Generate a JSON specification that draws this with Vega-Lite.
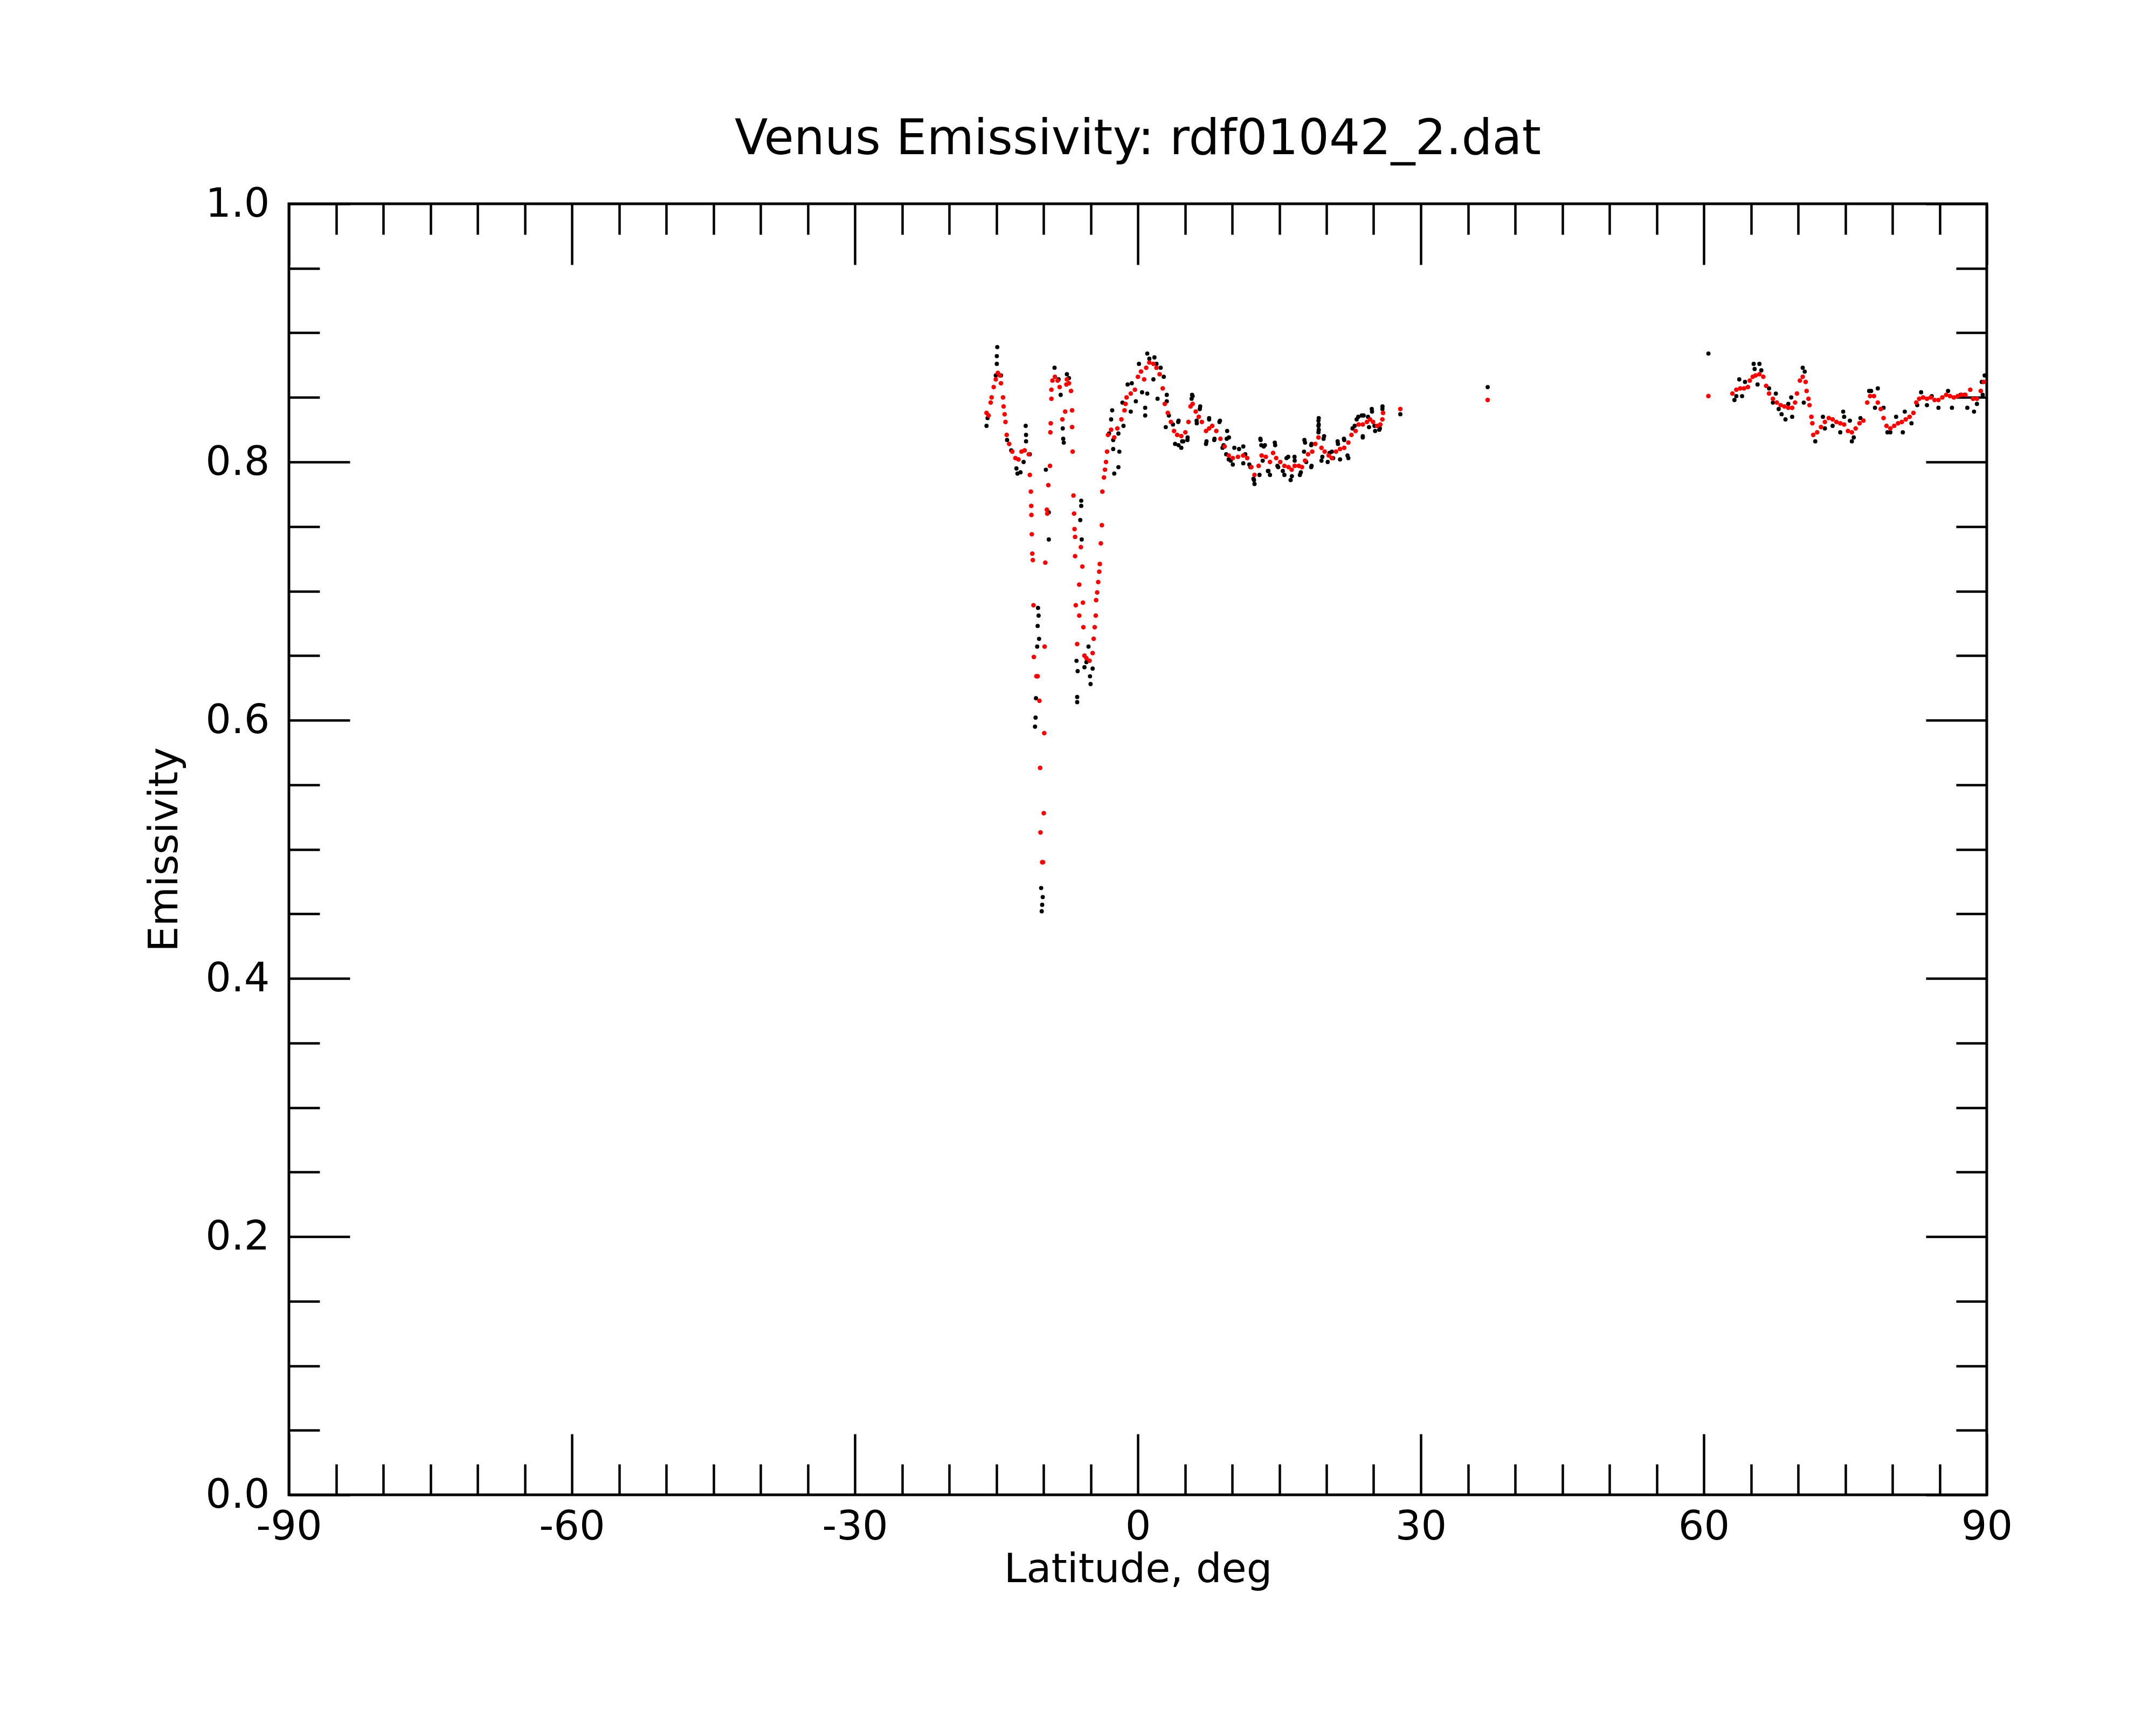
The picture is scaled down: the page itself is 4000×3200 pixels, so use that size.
{
  "$schema": "https://vega.github.io/schema/vega-lite/v6.json",
  "autosize": {"type": "none"},
  "padding": {"left": 536, "top": 378, "right": 314, "bottom": 427},
  "width": 3150,
  "height": 2395,
  "background": "white",
  "title": {
    "text": "Venus Emissivity: rdf01042_2.dat",
    "font": "DejaVu Sans",
    "fontSize": 90,
    "fontWeight": "normal",
    "color": "black",
    "anchor": "middle",
    "frame": "group",
    "baseline": "alphabetic",
    "offset": -35
  },
  "config": {
    "view": {"stroke": "black", "strokeWidth": 5},
    "axis": {
      "domain": false,
      "grid": false,
      "tickColor": "black",
      "tickWidth": 4.5,
      "labelFont": "DejaVu Sans",
      "labelFontSize": 75,
      "labelColor": "black",
      "labelFlush": false,
      "labelOverlap": false,
      "titleFont": "DejaVu Sans",
      "titleFontSize": 75,
      "titleFontWeight": "normal",
      "titleColor": "black",
      "zindex": 1
    }
  },
  "datasets": {
    "black": [
      {"lat": -16.04, "emis": 0.828}, {"lat": -15.93, "emis": 0.834}, {"lat": -15.06, "emis": 0.867}, {"lat": -14.95, "emis": 0.876},
      {"lat": -14.95, "emis": 0.882}, {"lat": -14.9, "emis": 0.889}, {"lat": -14.51, "emis": 0.867}, {"lat": -13.86, "emis": 0.817},
      {"lat": -13.42, "emis": 0.809}, {"lat": -12.87, "emis": 0.795}, {"lat": -12.76, "emis": 0.791}, {"lat": -12.44, "emis": 0.792},
      {"lat": -12.11, "emis": 0.8}, {"lat": -11.89, "emis": 0.828}, {"lat": -11.85, "emis": 0.821}, {"lat": -11.85, "emis": 0.816},
      {"lat": -11.45, "emis": 0.806}, {"lat": -10.58, "emis": 0.687}, {"lat": -10.52, "emis": 0.681}, {"lat": -10.62, "emis": 0.673},
      {"lat": -10.47, "emis": 0.663}, {"lat": -10.67, "emis": 0.657}, {"lat": -10.8, "emis": 0.617}, {"lat": -10.84, "emis": 0.602},
      {"lat": -10.9, "emis": 0.595}, {"lat": -10.25, "emis": 0.47}, {"lat": -10.08, "emis": 0.463}, {"lat": -10.14, "emis": 0.457},
      {"lat": -10.19, "emis": 0.452}, {"lat": -9.75, "emis": 0.794}, {"lat": -9.44, "emis": 0.761}, {"lat": -9.44, "emis": 0.74},
      {"lat": -8.83, "emis": 0.873}, {"lat": -8.4, "emis": 0.864}, {"lat": -8.18, "emis": 0.852}, {"lat": -7.96, "emis": 0.826},
      {"lat": -7.91, "emis": 0.818}, {"lat": -7.85, "emis": 0.815}, {"lat": -7.52, "emis": 0.868}, {"lat": -7.3, "emis": 0.865},
      {"lat": -6.0, "emis": 0.77}, {"lat": -6.0, "emis": 0.766}, {"lat": -6.1, "emis": 0.755}, {"lat": -5.95, "emis": 0.74},
      {"lat": -6.5, "emis": 0.646}, {"lat": -6.38, "emis": 0.638}, {"lat": -6.43, "emis": 0.618}, {"lat": -6.43, "emis": 0.614},
      {"lat": -5.66, "emis": 0.641}, {"lat": -5.23, "emis": 0.657}, {"lat": -5.07, "emis": 0.634}, {"lat": -5.01, "emis": 0.628},
      {"lat": -4.79, "emis": 0.64}, {"lat": -5.45, "emis": 0.645},
      {"lat": -3.05, "emis": 0.822}, {"lat": -2.83, "emis": 0.833}, {"lat": -2.72, "emis": 0.84}, {"lat": -2.61, "emis": 0.81},
      {"lat": -2.61, "emis": 0.817}, {"lat": -2.5, "emis": 0.791}, {"lat": -2.06, "emis": 0.796}, {"lat": -1.96, "emis": 0.808},
      {"lat": -2.06, "emis": 0.822}, {"lat": -1.52, "emis": 0.828}, {"lat": -1.63, "emis": 0.846}, {"lat": -1.08, "emis": 0.86},
      {"lat": -0.64, "emis": 0.861}, {"lat": -0.75, "emis": 0.839}, {"lat": -0.21, "emis": 0.847}, {"lat": 0.12, "emis": 0.876},
      {"lat": 0.45, "emis": 0.854}, {"lat": 0.78, "emis": 0.842}, {"lat": 0.78, "emis": 0.836}, {"lat": 1.0, "emis": 0.853},
      {"lat": 1.0, "emis": 0.884}, {"lat": 1.22, "emis": 0.88}, {"lat": 1.76, "emis": 0.881}, {"lat": 1.98, "emis": 0.876},
      {"lat": 1.65, "emis": 0.864}, {"lat": 2.09, "emis": 0.849}, {"lat": 2.42, "emis": 0.873}, {"lat": 2.75, "emis": 0.866},
      {"lat": 3.07, "emis": 0.852}, {"lat": 3.07, "emis": 0.847}, {"lat": 2.96, "emis": 0.827}, {"lat": 3.29, "emis": 0.836},
      {"lat": 3.73, "emis": 0.829}, {"lat": 3.95, "emis": 0.814}, {"lat": 4.28, "emis": 0.831}, {"lat": 4.61, "emis": 0.811},
      {"lat": 4.82, "emis": 0.816}, {"lat": 5.26, "emis": 0.817}, {"lat": 5.81, "emis": 0.851}, {"lat": 5.7, "emis": 0.849},
      {"lat": 6.57, "emis": 0.841}, {"lat": 6.25, "emis": 0.83}, {"lat": 7.23, "emis": 0.814}, {"lat": 7.56, "emis": 0.833},
      {"lat": 8.1, "emis": 0.817}, {"lat": 8.65, "emis": 0.831}, {"lat": 8.98, "emis": 0.811}, {"lat": 9.42, "emis": 0.818},
      {"lat": 9.64, "emis": 0.802}, {"lat": 10.07, "emis": 0.798}, {"lat": 10.73, "emis": 0.81}, {"lat": 11.39, "emis": 0.806},
      {"lat": 11.82, "emis": 0.798}, {"lat": 12.37, "emis": 0.783}, {"lat": 12.26, "emis": 0.787}, {"lat": 13.02, "emis": 0.817},
      {"lat": 13.35, "emis": 0.812}, {"lat": 13.24, "emis": 0.801}, {"lat": 13.79, "emis": 0.793}, {"lat": 14.01, "emis": 0.79},
      {"lat": 14.56, "emis": 0.813}, {"lat": 14.88, "emis": 0.796}, {"lat": 15.54, "emis": 0.79}, {"lat": 15.76, "emis": 0.803},
      {"lat": 16.2, "emis": 0.786}, {"lat": 16.63, "emis": 0.801}, {"lat": 17.18, "emis": 0.79}, {"lat": 17.73, "emis": 0.815},
      {"lat": 17.62, "emis": 0.808}, {"lat": 18.38, "emis": 0.796}, {"lat": 18.38, "emis": 0.813}, {"lat": 19.15, "emis": 0.832},
      {"lat": 19.15, "emis": 0.828}, {"lat": 19.15, "emis": 0.823}, {"lat": 19.69, "emis": 0.818}, {"lat": 19.47, "emis": 0.801},
      {"lat": 20.13, "emis": 0.8}, {"lat": 20.57, "emis": 0.808}, {"lat": 21.22, "emis": 0.814}, {"lat": 21.44, "emis": 0.802},
      {"lat": 21.88, "emis": 0.817}, {"lat": 22.32, "emis": 0.803}, {"lat": 22.76, "emis": 0.826}, {"lat": 23.2, "emis": 0.833},
      {"lat": 23.85, "emis": 0.819}, {"lat": 23.74, "emis": 0.836}, {"lat": 24.4, "emis": 0.835}, {"lat": 24.83, "emis": 0.839},
      {"lat": 25.16, "emis": 0.824}, {"lat": 25.6, "emis": 0.825}, {"lat": 25.93, "emis": 0.841},
      {"lat": 5.75, "emis": 0.852}, {"lat": 4.32, "emis": 0.832}, {"lat": 4.7, "emis": 0.816}, {"lat": 4.32, "emis": 0.813},
      {"lat": 5.28, "emis": 0.819}, {"lat": 6.61, "emis": 0.843}, {"lat": 6.23, "emis": 0.832}, {"lat": 7.28, "emis": 0.816},
      {"lat": 7.56, "emis": 0.834}, {"lat": 8.13, "emis": 0.818}, {"lat": 8.71, "emis": 0.832}, {"lat": 9.47, "emis": 0.824},
      {"lat": 9.66, "emis": 0.819}, {"lat": 9.09, "emis": 0.813}, {"lat": 9.37, "emis": 0.806}, {"lat": 10.23, "emis": 0.811},
      {"lat": 11.18, "emis": 0.812}, {"lat": 9.85, "emis": 0.801}, {"lat": 11.18, "emis": 0.799}, {"lat": 11.94, "emis": 0.796},
      {"lat": 12.32, "emis": 0.786}, {"lat": 12.9, "emis": 0.79}, {"lat": 12.99, "emis": 0.818}, {"lat": 13.09, "emis": 0.813},
      {"lat": 13.47, "emis": 0.813}, {"lat": 13.85, "emis": 0.793}, {"lat": 14.52, "emis": 0.815}, {"lat": 14.8, "emis": 0.797},
      {"lat": 15.37, "emis": 0.793}, {"lat": 15.94, "emis": 0.804}, {"lat": 16.33, "emis": 0.789}, {"lat": 16.61, "emis": 0.804},
      {"lat": 17.28, "emis": 0.792}, {"lat": 17.66, "emis": 0.817}, {"lat": 17.85, "emis": 0.8}, {"lat": 18.42, "emis": 0.797},
      {"lat": 18.42, "emis": 0.814}, {"lat": 19.18, "emis": 0.834}, {"lat": 19.18, "emis": 0.829}, {"lat": 19.18, "emis": 0.825},
      {"lat": 19.75, "emis": 0.82}, {"lat": 19.56, "emis": 0.804}, {"lat": 20.32, "emis": 0.807}, {"lat": 20.71, "emis": 0.803},
      {"lat": 21.18, "emis": 0.816}, {"lat": 21.85, "emis": 0.818}, {"lat": 22.23, "emis": 0.805}, {"lat": 22.99, "emis": 0.828},
      {"lat": 23.37, "emis": 0.835}, {"lat": 23.85, "emis": 0.82}, {"lat": 23.94, "emis": 0.836}, {"lat": 24.8, "emis": 0.841},
      {"lat": 25.09, "emis": 0.828}, {"lat": 25.66, "emis": 0.826}, {"lat": 25.94, "emis": 0.843}, {"lat": 24.51, "emis": 0.827},
      {"lat": 27.83, "emis": 0.837}, {"lat": 37.09, "emis": 0.858}, {"lat": 60.49, "emis": 0.884},
      {"lat": 63.25, "emis": 0.848}, {"lat": 63.45, "emis": 0.851}, {"lat": 63.76, "emis": 0.864}, {"lat": 64.06, "emis": 0.851},
      {"lat": 64.37, "emis": 0.862}, {"lat": 65.29, "emis": 0.876}, {"lat": 65.39, "emis": 0.872}, {"lat": 65.9, "emis": 0.876},
      {"lat": 66.1, "emis": 0.871}, {"lat": 65.7, "emis": 0.86}, {"lat": 66.92, "emis": 0.857}, {"lat": 67.64, "emis": 0.853},
      {"lat": 67.33, "emis": 0.846}, {"lat": 67.94, "emis": 0.841}, {"lat": 68.25, "emis": 0.837}, {"lat": 68.66, "emis": 0.833},
      {"lat": 68.96, "emis": 0.845}, {"lat": 69.27, "emis": 0.85}, {"lat": 69.37, "emis": 0.835}, {"lat": 70.49, "emis": 0.873},
      {"lat": 70.7, "emis": 0.87}, {"lat": 70.6, "emis": 0.846}, {"lat": 71.82, "emis": 0.816}, {"lat": 72.63, "emis": 0.835},
      {"lat": 72.84, "emis": 0.826}, {"lat": 73.66, "emis": 0.828}, {"lat": 74.47, "emis": 0.823}, {"lat": 74.78, "emis": 0.839},
      {"lat": 74.88, "emis": 0.835}, {"lat": 75.49, "emis": 0.832}, {"lat": 75.7, "emis": 0.816}, {"lat": 75.9, "emis": 0.819},
      {"lat": 76.61, "emis": 0.834}, {"lat": 77.53, "emis": 0.855}, {"lat": 77.74, "emis": 0.855}, {"lat": 78.45, "emis": 0.857},
      {"lat": 78.15, "emis": 0.842}, {"lat": 79.06, "emis": 0.842}, {"lat": 79.47, "emis": 0.823}, {"lat": 79.78, "emis": 0.823},
      {"lat": 80.39, "emis": 0.835}, {"lat": 81.1, "emis": 0.823}, {"lat": 81.31, "emis": 0.839}, {"lat": 82.02, "emis": 0.83},
      {"lat": 82.63, "emis": 0.844}, {"lat": 83.04, "emis": 0.854}, {"lat": 83.66, "emis": 0.844}, {"lat": 84.17, "emis": 0.851},
      {"lat": 84.88, "emis": 0.842}, {"lat": 85.9, "emis": 0.855}, {"lat": 86.31, "emis": 0.842}, {"lat": 87.23, "emis": 0.852},
      {"lat": 87.64, "emis": 0.852}, {"lat": 87.94, "emis": 0.842}, {"lat": 88.65, "emis": 0.839}, {"lat": 88.96, "emis": 0.845},
      {"lat": 89.47, "emis": 0.862}, {"lat": 89.78, "emis": 0.867}, {"lat": 89.57, "emis": 0.852}
    ],
    "red": [
      {"lat": -16.04, "emis": 0.838}, {"lat": -15.82, "emis": 0.836}, {"lat": -15.6, "emis": 0.846}, {"lat": -15.5, "emis": 0.85},
      {"lat": -15.28, "emis": 0.858}, {"lat": -15.06, "emis": 0.864}, {"lat": -14.84, "emis": 0.869}, {"lat": -14.62, "emis": 0.867},
      {"lat": -14.51, "emis": 0.861}, {"lat": -14.29, "emis": 0.85}, {"lat": -14.23, "emis": 0.843}, {"lat": -14.12, "emis": 0.837},
      {"lat": -14.03, "emis": 0.831}, {"lat": -13.9, "emis": 0.821}, {"lat": -13.64, "emis": 0.814}, {"lat": -13.31, "emis": 0.808},
      {"lat": -12.98, "emis": 0.803}, {"lat": -12.65, "emis": 0.802}, {"lat": -12.33, "emis": 0.808}, {"lat": -12.0, "emis": 0.809},
      {"lat": -11.56, "emis": 0.806}, {"lat": -11.45, "emis": 0.79}, {"lat": -11.34, "emis": 0.777}, {"lat": -11.3, "emis": 0.766},
      {"lat": -11.28, "emis": 0.759}, {"lat": -11.24, "emis": 0.744}, {"lat": -11.19, "emis": 0.729}, {"lat": -11.13, "emis": 0.724},
      {"lat": -11.06, "emis": 0.689}, {"lat": -11.02, "emis": 0.649}, {"lat": -10.75, "emis": 0.634}, {"lat": -10.62, "emis": 0.634},
      {"lat": -10.43, "emis": 0.615}, {"lat": -10.36, "emis": 0.563}, {"lat": -10.32, "emis": 0.513}, {"lat": -10.14, "emis": 0.49},
      {"lat": -10.05, "emis": 0.49}, {"lat": -9.97, "emis": 0.528}, {"lat": -9.92, "emis": 0.59}, {"lat": -9.88, "emis": 0.657},
      {"lat": -9.81, "emis": 0.722}, {"lat": -9.64, "emis": 0.763}, {"lat": -9.6, "emis": 0.76}, {"lat": -9.49, "emis": 0.782},
      {"lat": -9.31, "emis": 0.797}, {"lat": -9.27, "emis": 0.823}, {"lat": -9.23, "emis": 0.83}, {"lat": -9.16, "emis": 0.849},
      {"lat": -9.16, "emis": 0.856}, {"lat": -9.05, "emis": 0.863}, {"lat": -8.79, "emis": 0.866}, {"lat": -8.5, "emis": 0.863},
      {"lat": -8.29, "emis": 0.858}, {"lat": -8.0, "emis": 0.833}, {"lat": -7.7, "emis": 0.839}, {"lat": -7.57, "emis": 0.86},
      {"lat": -7.52, "emis": 0.864}, {"lat": -7.3, "emis": 0.861}, {"lat": -7.08, "emis": 0.855}, {"lat": -6.97, "emis": 0.84},
      {"lat": -6.97, "emis": 0.827}, {"lat": -6.91, "emis": 0.808}, {"lat": -6.82, "emis": 0.774}, {"lat": -6.76, "emis": 0.76},
      {"lat": -6.71, "emis": 0.748}, {"lat": -6.65, "emis": 0.742}, {"lat": -6.65, "emis": 0.727}, {"lat": -6.58, "emis": 0.689},
      {"lat": -6.43, "emis": 0.659}, {"lat": -6.21, "emis": 0.705}, {"lat": -6.21, "emis": 0.681}, {"lat": -6.04, "emis": 0.734},
      {"lat": -5.88, "emis": 0.719}, {"lat": -5.82, "emis": 0.691}, {"lat": -5.77, "emis": 0.672}, {"lat": -5.66, "emis": 0.65},
      {"lat": -5.45, "emis": 0.648}, {"lat": -5.12, "emis": 0.646}, {"lat": -4.79, "emis": 0.652}, {"lat": -4.68, "emis": 0.663},
      {"lat": -4.57, "emis": 0.672}, {"lat": -4.46, "emis": 0.681}, {"lat": -4.42, "emis": 0.693}, {"lat": -4.31, "emis": 0.699},
      {"lat": -4.2, "emis": 0.707}, {"lat": -4.09, "emis": 0.715}, {"lat": -4.03, "emis": 0.721}, {"lat": -3.92, "emis": 0.737},
      {"lat": -3.81, "emis": 0.751}, {"lat": -3.76, "emis": 0.777}, {"lat": -3.59, "emis": 0.788}, {"lat": -3.48, "emis": 0.794},
      {"lat": -3.37, "emis": 0.8}, {"lat": -3.26, "emis": 0.808}, {"lat": -3.16, "emis": 0.821}, {"lat": -2.83, "emis": 0.825},
      {"lat": -2.5, "emis": 0.819}, {"lat": -2.17, "emis": 0.826}, {"lat": -1.74, "emis": 0.833}, {"lat": -1.41, "emis": 0.84},
      {"lat": -1.3, "emis": 0.845}, {"lat": -1.19, "emis": 0.85}, {"lat": -0.75, "emis": 0.853}, {"lat": -0.31, "emis": 0.856},
      {"lat": 0.01, "emis": 0.866}, {"lat": 0.34, "emis": 0.87}, {"lat": 0.67, "emis": 0.864}, {"lat": 0.89, "emis": 0.873},
      {"lat": 1.22, "emis": 0.877}, {"lat": 1.65, "emis": 0.876}, {"lat": 1.98, "emis": 0.873}, {"lat": 2.31, "emis": 0.868},
      {"lat": 2.64, "emis": 0.857}, {"lat": 2.86, "emis": 0.845}, {"lat": 3.18, "emis": 0.838}, {"lat": 3.51, "emis": 0.831},
      {"lat": 3.84, "emis": 0.824}, {"lat": 4.17, "emis": 0.821}, {"lat": 4.61, "emis": 0.82}, {"lat": 5.04, "emis": 0.823},
      {"lat": 5.37, "emis": 0.831}, {"lat": 5.59, "emis": 0.843}, {"lat": 5.81, "emis": 0.845}, {"lat": 6.14, "emis": 0.839},
      {"lat": 6.46, "emis": 0.835}, {"lat": 6.79, "emis": 0.831}, {"lat": 7.23, "emis": 0.824}, {"lat": 7.56, "emis": 0.826},
      {"lat": 7.89, "emis": 0.828}, {"lat": 8.32, "emis": 0.824}, {"lat": 8.76, "emis": 0.818}, {"lat": 9.2, "emis": 0.812},
      {"lat": 9.64, "emis": 0.805}, {"lat": 10.07, "emis": 0.803}, {"lat": 10.62, "emis": 0.804}, {"lat": 11.17, "emis": 0.805},
      {"lat": 11.6, "emis": 0.803}, {"lat": 12.04, "emis": 0.796}, {"lat": 12.37, "emis": 0.79}, {"lat": 12.81, "emis": 0.797},
      {"lat": 13.13, "emis": 0.805}, {"lat": 13.57, "emis": 0.804}, {"lat": 14.01, "emis": 0.8}, {"lat": 14.34, "emis": 0.807},
      {"lat": 14.67, "emis": 0.803}, {"lat": 15.1, "emis": 0.8}, {"lat": 15.54, "emis": 0.797}, {"lat": 15.98, "emis": 0.796},
      {"lat": 16.31, "emis": 0.794}, {"lat": 16.63, "emis": 0.797}, {"lat": 17.07, "emis": 0.797}, {"lat": 17.4, "emis": 0.796},
      {"lat": 17.73, "emis": 0.801}, {"lat": 18.05, "emis": 0.806}, {"lat": 18.49, "emis": 0.808}, {"lat": 18.82, "emis": 0.814},
      {"lat": 19.15, "emis": 0.819}, {"lat": 19.47, "emis": 0.811}, {"lat": 19.81, "emis": 0.808}, {"lat": 20.24, "emis": 0.805},
      {"lat": 20.57, "emis": 0.803}, {"lat": 21.01, "emis": 0.808}, {"lat": 21.44, "emis": 0.81}, {"lat": 21.88, "emis": 0.811},
      {"lat": 22.32, "emis": 0.815}, {"lat": 22.65, "emis": 0.821}, {"lat": 23.09, "emis": 0.824}, {"lat": 23.41, "emis": 0.829},
      {"lat": 23.85, "emis": 0.829}, {"lat": 24.29, "emis": 0.831}, {"lat": 24.62, "emis": 0.833}, {"lat": 24.94, "emis": 0.831},
      {"lat": 25.38, "emis": 0.828}, {"lat": 25.71, "emis": 0.829}, {"lat": 25.93, "emis": 0.833}, {"lat": 26.0, "emis": 0.838},
      {"lat": 27.83, "emis": 0.841}, {"lat": 37.09, "emis": 0.848}, {"lat": 60.49, "emis": 0.851},
      {"lat": 63.04, "emis": 0.853}, {"lat": 63.45, "emis": 0.856}, {"lat": 63.86, "emis": 0.857}, {"lat": 64.27, "emis": 0.857},
      {"lat": 64.68, "emis": 0.858}, {"lat": 64.88, "emis": 0.863}, {"lat": 65.19, "emis": 0.866}, {"lat": 65.49, "emis": 0.867},
      {"lat": 65.9, "emis": 0.868}, {"lat": 66.31, "emis": 0.866}, {"lat": 66.61, "emis": 0.859}, {"lat": 66.92, "emis": 0.853},
      {"lat": 67.33, "emis": 0.849}, {"lat": 67.74, "emis": 0.846}, {"lat": 68.15, "emis": 0.844}, {"lat": 68.55, "emis": 0.843},
      {"lat": 68.96, "emis": 0.842}, {"lat": 69.37, "emis": 0.842}, {"lat": 69.68, "emis": 0.846}, {"lat": 69.88, "emis": 0.853},
      {"lat": 70.19, "emis": 0.863}, {"lat": 70.49, "emis": 0.866}, {"lat": 70.8, "emis": 0.862}, {"lat": 70.9, "emis": 0.855},
      {"lat": 71.1, "emis": 0.849}, {"lat": 71.21, "emis": 0.844}, {"lat": 71.41, "emis": 0.835}, {"lat": 71.51, "emis": 0.83},
      {"lat": 71.61, "emis": 0.821}, {"lat": 72.02, "emis": 0.823}, {"lat": 72.43, "emis": 0.827}, {"lat": 72.84, "emis": 0.831},
      {"lat": 73.25, "emis": 0.834}, {"lat": 73.66, "emis": 0.833}, {"lat": 74.06, "emis": 0.831}, {"lat": 74.47, "emis": 0.83},
      {"lat": 74.88, "emis": 0.829}, {"lat": 75.29, "emis": 0.824}, {"lat": 75.7, "emis": 0.823}, {"lat": 76.1, "emis": 0.826},
      {"lat": 76.51, "emis": 0.83}, {"lat": 76.92, "emis": 0.832}, {"lat": 77.33, "emis": 0.846}, {"lat": 77.63, "emis": 0.851},
      {"lat": 78.04, "emis": 0.851}, {"lat": 78.45, "emis": 0.846}, {"lat": 78.76, "emis": 0.841}, {"lat": 79.06, "emis": 0.834},
      {"lat": 79.37, "emis": 0.828}, {"lat": 79.78, "emis": 0.826}, {"lat": 80.19, "emis": 0.828}, {"lat": 80.6, "emis": 0.83},
      {"lat": 81.0, "emis": 0.831}, {"lat": 81.41, "emis": 0.833}, {"lat": 81.82, "emis": 0.835}, {"lat": 82.23, "emis": 0.838},
      {"lat": 82.53, "emis": 0.846}, {"lat": 82.84, "emis": 0.849}, {"lat": 83.25, "emis": 0.85}, {"lat": 83.66, "emis": 0.849},
      {"lat": 84.06, "emis": 0.85}, {"lat": 84.47, "emis": 0.848}, {"lat": 84.88, "emis": 0.848}, {"lat": 85.29, "emis": 0.85},
      {"lat": 85.7, "emis": 0.852}, {"lat": 86.1, "emis": 0.851}, {"lat": 86.51, "emis": 0.85}, {"lat": 86.92, "emis": 0.851},
      {"lat": 87.33, "emis": 0.852}, {"lat": 87.74, "emis": 0.852}, {"lat": 88.25, "emis": 0.856}, {"lat": 88.55, "emis": 0.849},
      {"lat": 88.96, "emis": 0.849}, {"lat": 89.37, "emis": 0.855}, {"lat": 89.68, "emis": 0.862}
    ]
  },
  "resolve": {"axis": {"x": "independent", "y": "independent"}},
  "layer": [
    {
      "data": {"name": "black"},
      "mark": {"type": "circle", "size": 62, "color": "black", "opacity": 1},
      "encoding": {
        "x": {
          "field": "lat",
          "type": "quantitative",
          "scale": {"domain": [-90, 90], "nice": false, "zero": false},
          "axis": {
            "orient": "bottom",
            "values": [-90, -60, -30, 0, 30, 60, 90],
            "labelExpr": "'' + datum.value",
            "ticks": false,
            "labelPadding": 23,
            "title": "Latitude, deg",
            "titlePadding": 5
          }
        },
        "y": {
          "field": "emis",
          "type": "quantitative",
          "scale": {"domain": [0, 1], "nice": false, "zero": false},
          "axis": {
            "orient": "left",
            "values": [0, 0.2, 0.4, 0.6, 0.8, 1],
            "format": ".1f",
            "ticks": false,
            "labelPadding": 36,
            "title": "Emissivity",
            "titlePadding": 36
          }
        }
      }
    },
    {
      "data": {"name": "red"},
      "mark": {"type": "circle", "size": 72, "color": "red", "opacity": 1},
      "encoding": {
        "x": {
          "field": "lat",
          "type": "quantitative",
          "scale": {"domain": [-90, 90], "nice": false, "zero": false},
          "axis": {"orient": "bottom", "values": [-90, -60, -30, 0, 30, 60, 90], "labels": false, "tickSize": -113, "title": null}
        },
        "y": {
          "field": "emis",
          "type": "quantitative",
          "scale": {"domain": [0, 1], "nice": false, "zero": false},
          "axis": {"orient": "left", "values": [0, 0.2, 0.4, 0.6, 0.8, 1], "labels": false, "tickSize": -113, "title": null}
        }
      }
    },
    {
      "data": {"name": "red"},
      "mark": {"type": "circle", "size": 1, "opacity": 0},
      "encoding": {
        "x": {
          "field": "lat",
          "type": "quantitative",
          "scale": {"domain": [-90, 90], "nice": false, "zero": false},
          "axis": {
            "orient": "bottom",
            "values": [-85, -80, -75, -70, -65, -55, -50, -45, -40, -35, -25, -20, -15, -10, -5, 5, 10, 15, 20, 25, 35, 40, 45, 50, 55, 65, 70, 75, 80, 85],
            "labels": false, "tickSize": -57, "title": null
          }
        },
        "y": {
          "field": "emis",
          "type": "quantitative",
          "scale": {"domain": [0, 1], "nice": false, "zero": false},
          "axis": {
            "orient": "left",
            "values": [0.05, 0.1, 0.15, 0.25, 0.3, 0.35, 0.45, 0.5, 0.55, 0.65, 0.7, 0.75, 0.85, 0.9, 0.95],
            "labels": false, "tickSize": -57, "title": null
          }
        }
      }
    },
    {
      "data": {"name": "red"},
      "mark": {"type": "circle", "size": 1, "opacity": 0},
      "encoding": {
        "x": {
          "field": "lat",
          "type": "quantitative",
          "scale": {"domain": [-90, 90], "nice": false, "zero": false},
          "axis": {"orient": "top", "values": [-90, -60, -30, 0, 30, 60, 90], "labels": false, "tickSize": -113, "title": null}
        },
        "y": {
          "field": "emis",
          "type": "quantitative",
          "scale": {"domain": [0, 1], "nice": false, "zero": false},
          "axis": {"orient": "right", "values": [0, 0.2, 0.4, 0.6, 0.8, 1], "labels": false, "tickSize": -113, "title": null}
        }
      }
    },
    {
      "data": {"name": "red"},
      "mark": {"type": "circle", "size": 1, "opacity": 0},
      "encoding": {
        "x": {
          "field": "lat",
          "type": "quantitative",
          "scale": {"domain": [-90, 90], "nice": false, "zero": false},
          "axis": {
            "orient": "top",
            "values": [-85, -80, -75, -70, -65, -55, -50, -45, -40, -35, -25, -20, -15, -10, -5, 5, 10, 15, 20, 25, 35, 40, 45, 50, 55, 65, 70, 75, 80, 85],
            "labels": false, "tickSize": -57, "title": null
          }
        },
        "y": {
          "field": "emis",
          "type": "quantitative",
          "scale": {"domain": [0, 1], "nice": false, "zero": false},
          "axis": {
            "orient": "right",
            "values": [0.05, 0.1, 0.15, 0.25, 0.3, 0.35, 0.45, 0.5, 0.55, 0.65, 0.7, 0.75, 0.85, 0.9, 0.95],
            "labels": false, "tickSize": -57, "title": null
          }
        }
      }
    }
  ]
}
